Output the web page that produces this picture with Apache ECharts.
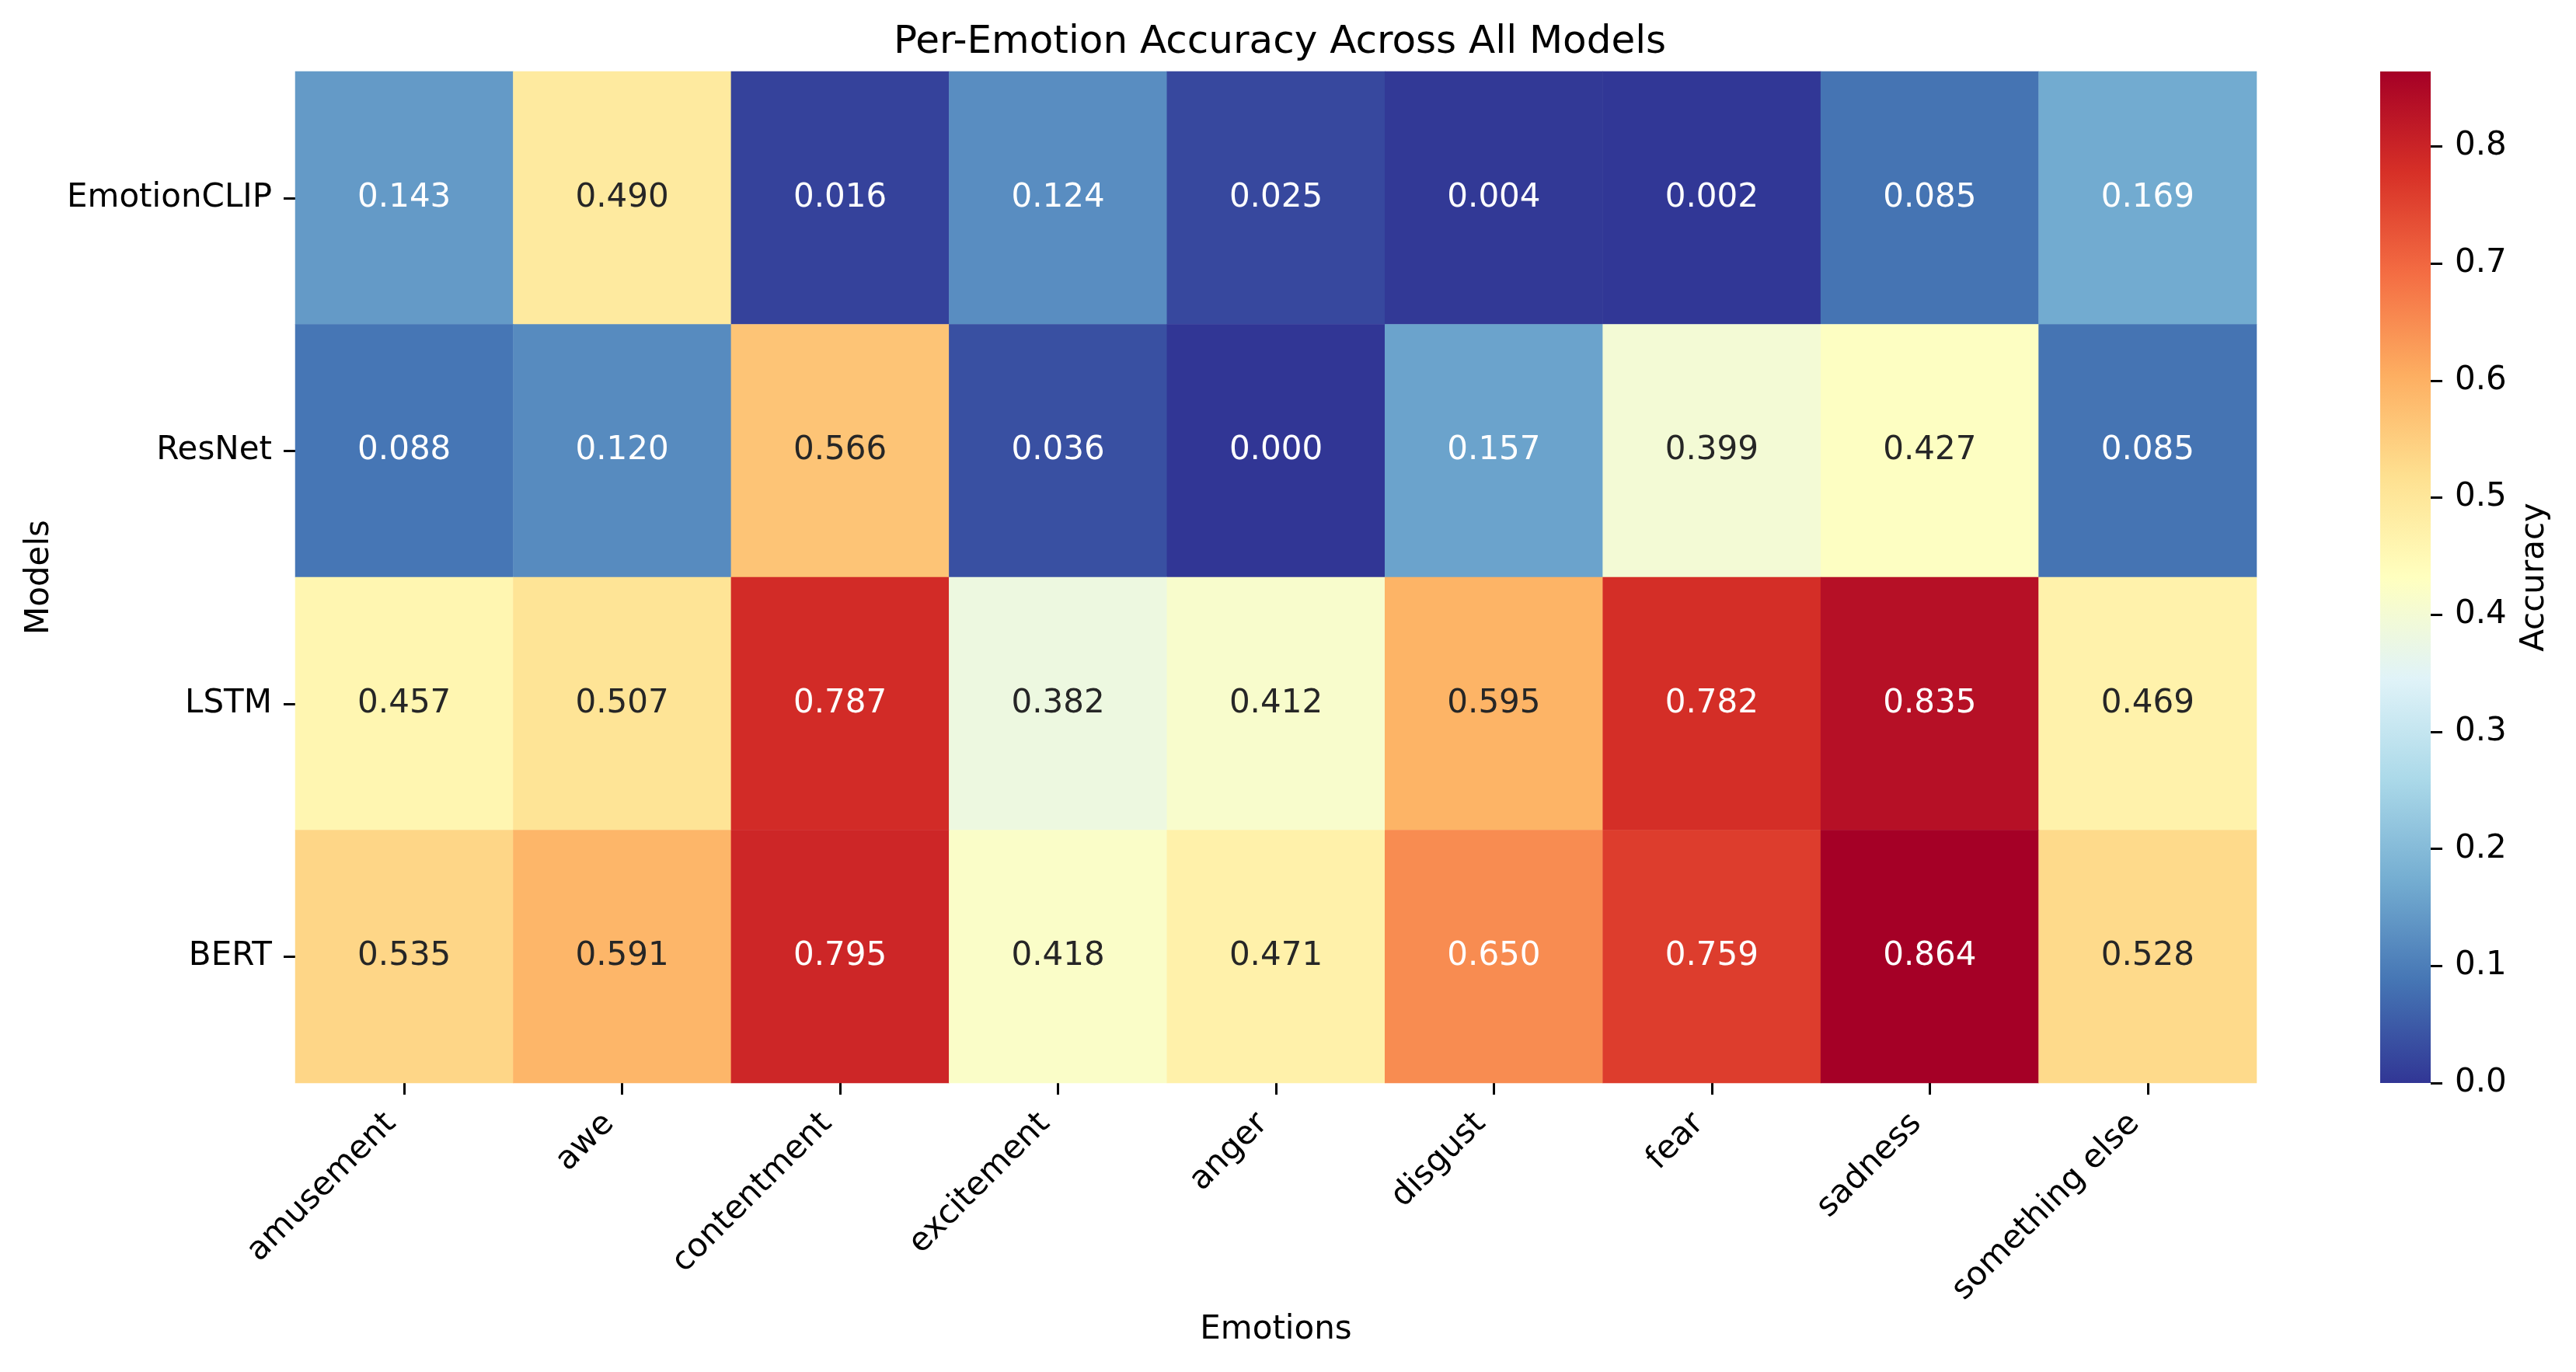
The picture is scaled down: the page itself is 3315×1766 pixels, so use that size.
<!DOCTYPE html>
<html><head><meta charset="utf-8">
<script src="https://cdn.jsdelivr.net/npm/echarts@6/dist/echarts.min.js"></script>
<style>html,body{margin:0;padding:0;background:#fff}#c{width:3315px;height:1766px}</style>
</head><body><div id="c"></div>
<script>
const emotions = ['amusement','awe','contentment','excitement','anger','disgust','fear','sadness','something else'];
const models = ['EmotionCLIP','ResNet','LSTM','BERT'];
const emotionClipAcc = [0.143, 0.490, 0.016, 0.124, 0.025, 0.004, 0.002, 0.085, 0.169];
const resnetAcc      = [0.088, 0.120, 0.566, 0.036, 0.000, 0.157, 0.399, 0.427, 0.085];
const lstmAcc        = [0.457, 0.507, 0.787, 0.382, 0.412, 0.595, 0.782, 0.835, 0.469];
const bertAcc        = [0.535, 0.591, 0.795, 0.418, 0.471, 0.650, 0.759, 0.864, 0.528];
const colorbarTicks  = [0, 0.1, 0.2, 0.3, 0.4, 0.5, 0.6, 0.7, 0.8];
const cmapColors = ['#313695','#4575b4','#74add1','#abd9e9','#e0f3f8','#ffffbf','#fee090','#fdae61','#f46d43','#d73027','#a50026'];

const rows = [emotionClipAcc, resnetAcc, lstmAcc, bertAcc];
const vmin = 0;
const vmax = Math.max(...rows.flat());

function hexToRgb(h){ return [parseInt(h.slice(1,3),16), parseInt(h.slice(3,5),16), parseInt(h.slice(5,7),16)]; }
function cmap(v){
  const t = Math.min(1, Math.max(0, (v - vmin) / (vmax - vmin)));
  const pos = t * (cmapColors.length - 1);
  const i = Math.min(cmapColors.length - 2, Math.floor(pos));
  const f = pos - i;
  const a = hexToRgb(cmapColors[i]), b = hexToRgb(cmapColors[i+1]);
  return a.map((c, k) => c + (b[k] - c) * f);
}
function luminance(rgb){
  const l = rgb.map(c => { c = c / 255; return c <= 0.03928 ? c / 12.92 : Math.pow((c + 0.055) / 1.055, 2.4); });
  return 0.2126 * l[0] + 0.7152 * l[1] + 0.0722 * l[2];
}
const heatData = [];
rows.forEach((r, yi) => r.forEach((v, xi) => {
  heatData.push({ value: [xi, yi, v], label: { color: luminance(cmap(v)) > 0.408 ? '#262626' : '#ffffff' } });
}));

const FONT = 'DejaVu Sans';
const tickStyle = { show: true, length: 15, lineStyle: { color: '#000', width: 3 } };
const chart = echarts.init(document.getElementById('c'), null, { renderer: 'canvas' });
chart.setOption({
  animation: false,
  backgroundColor: '#ffffff',
  textStyle: { fontFamily: FONT },
  title: {
    text: 'Per-Emotion Accuracy Across All Models',
    left: 1642, top: 25, textAlign: 'center',
    textStyle: { fontSize: 50, fontWeight: 'normal', color: '#000', fontFamily: FONT, lineHeight: 50 }
  },
  grid: [
    { left: 380, top: 92, width: 2524, height: 1302 },
    { left: 3063, top: 92, width: 65, height: 1302 }
  ],
  xAxis: [
    {
      type: 'category', data: emotions, gridIndex: 0,
      axisLine: { show: false },
      axisTick: Object.assign({ alignWithLabel: true }, tickStyle),
      axisLabel: { interval: 0, rotate: 45, margin: 29, padding: [0, 24, 0, 0], fontSize: 42, color: '#000', fontFamily: FONT },
      splitLine: { show: false },
      name: 'Emotions', nameLocation: 'middle', nameGap: 297,
      nameTextStyle: { fontSize: 42, color: '#000', fontFamily: FONT }
    },
    { type: 'category', data: ['cb'], gridIndex: 1, show: false }
  ],
  yAxis: [
    {
      type: 'category', data: models, inverse: true, gridIndex: 0,
      axisLine: { show: false },
      axisTick: Object.assign({ alignWithLabel: true }, tickStyle),
      axisLabel: { margin: 30, fontSize: 42, color: '#000', fontFamily: FONT },
      splitLine: { show: false },
      name: 'Models', nameLocation: 'middle', nameGap: 308, nameRotate: 90,
      nameTextStyle: { fontSize: 42, color: '#000', fontFamily: FONT }
    },
    {
      type: 'value', gridIndex: 1, position: 'right', min: vmin, max: vmax,
      axisLine: { show: false },
      axisTick: Object.assign({ customValues: colorbarTicks }, tickStyle),
      axisLabel: { customValues: colorbarTicks, formatter: v => Number(v).toFixed(1), margin: 31, fontSize: 42, color: '#000', fontFamily: FONT },
      splitLine: { show: false },
      name: 'Accuracy', nameLocation: 'middle', nameGap: 113, nameRotate: 90,
      nameTextStyle: { fontSize: 42, color: '#000', fontFamily: FONT }
    }
  ],
  visualMap: {
    show: false, type: 'continuous', min: vmin, max: vmax, dimension: 2, seriesIndex: 0,
    inRange: { color: cmapColors }
  },
  series: [
    {
      type: 'heatmap', xAxisIndex: 0, yAxisIndex: 0, data: heatData,
      label: { show: true, fontSize: 42, fontFamily: FONT, formatter: p => p.value[2].toFixed(3) },
      itemStyle: { borderWidth: 0 },
      emphasis: { disabled: true }
    },
    {
      type: 'bar', xAxisIndex: 1, yAxisIndex: 1, data: [vmax], barWidth: '100%', silent: true,
      itemStyle: { color: { type: 'linear', x: 0, y: 1, x2: 0, y2: 0,
        colorStops: cmapColors.map((c, i) => ({ offset: i / (cmapColors.length - 1), color: c })) } }
    }
  ]
});
</script></body></html>
